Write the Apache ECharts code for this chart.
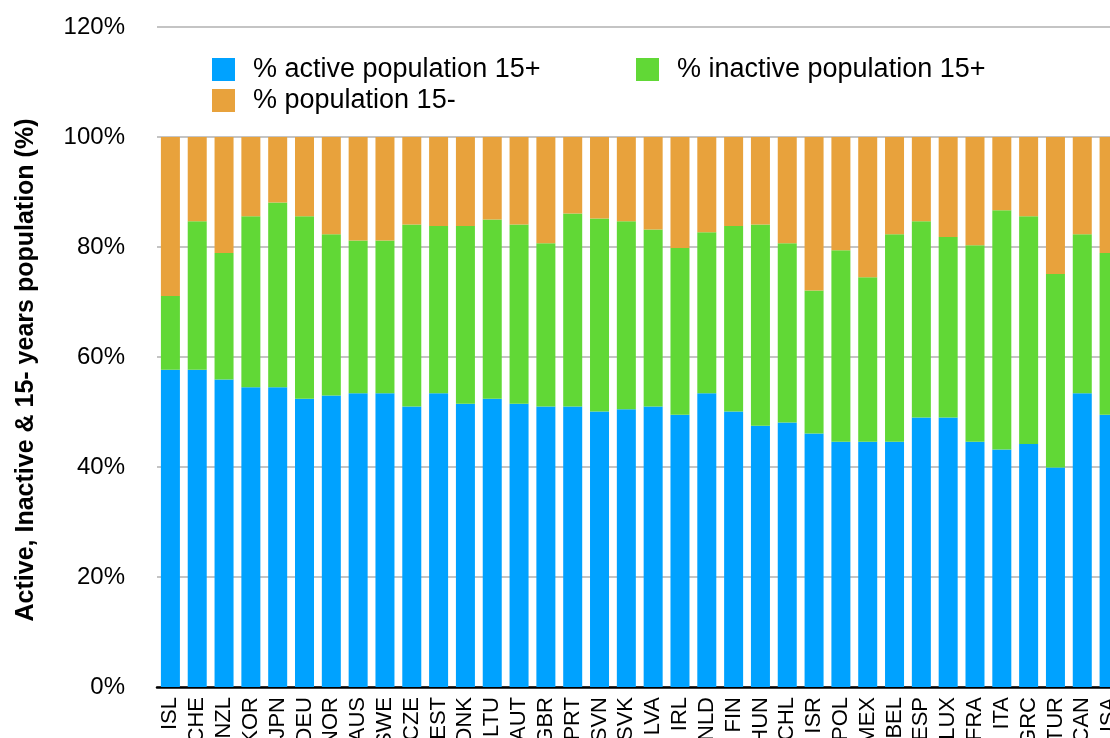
<!DOCTYPE html>
<html>
<head>
<meta charset="utf-8">
<script src="https://cdn.jsdelivr.net/npm/echarts@6/dist/echarts.min.js"></script>
<style>
html,body{margin:0;padding:0;background:#fff;}
#c{width:1110px;height:738px;}
</style>
</head>
<body>
<div id="c"></div>
<script>
const categories = ['ISL','CHE','NZL','KOR','JPN','DEU','NOR','AUS','SWE','CZE','EST','DNK','LTU','AUT','GBR','PRT','SVN','SVK','LVA','IRL','NLD','FIN','HUN','CHL','ISR','POL','MEX','BEL','ESP','LUX','FRA','ITA','GRC','TUR','CAN','USA'];
const activePct = [57.7,57.7,55.9,54.5,54.5,52.4,53.0,53.4,53.4,51.0,53.4,51.5,52.4,51.5,51.0,51.0,50.1,50.5,51.0,49.5,53.4,50.1,47.5,48.1,46.1,44.6,44.6,44.6,49.0,49.0,44.6,43.2,44.2,39.9,53.4,49.5];
const inactivePct = [13.4,27.0,23.0,31.1,33.6,33.2,29.3,27.8,27.8,33.1,30.4,32.3,32.6,32.6,29.7,35.1,35.1,34.2,32.2,30.3,29.3,33.7,36.6,32.6,26.0,34.8,29.9,37.7,35.7,32.8,35.7,43.5,41.4,35.2,28.9,29.4];
const under15Pct = [28.9,15.3,21.1,14.4,11.9,14.4,17.7,18.8,18.8,15.9,16.2,16.2,15.0,15.9,19.3,13.9,14.8,15.3,16.8,20.2,17.3,16.2,15.9,19.3,27.9,20.6,25.5,17.7,15.3,18.2,19.7,13.3,14.4,24.9,17.7,21.1];
const yTicks = {min:0, max:120, interval:20};
const seriesNames = ['% active population 15+','% inactive population 15+','% population 15-'];
const colors = ['#00A2FF','#61D836','#E8A23C'];

const chart = echarts.init(document.getElementById('c'), null, {renderer:'canvas'});
const font = 'Liberation Sans';
function legendItem(name, left, top){
  return {
    data:[name], left:left, top:top, padding:0, itemWidth:23, itemHeight:23, icon:'rect',
    selectedMode:false,
    formatter: function(n){ return '{t|' + n + '}'; },
    textStyle:{ rich:{ t:{ fontFamily:font, fontSize:27, color:'#000', padding:[0,0,0,13] } } }
  };
}
chart.setOption({
  animation:false,
  backgroundColor:'#fff',
  color: colors,
  grid:{left:157, top:27, width:965.5, height:660, containLabel:false, outerBoundsMode:'none'},
  legend:[
    legendItem(seriesNames[0], 212, 56),
    legendItem(seriesNames[1], 636, 56),
    legendItem(seriesNames[2], 212, 87)
  ],
  xAxis:{
    type:'category', data:categories,
    axisTick:{show:false},
    axisLine:{lineStyle:{color:'#000', width:2.5}},
    axisLabel:{rotate:90, interval:0, margin:10, fontFamily:font, fontSize:22, color:'#000'}
  },
  yAxis:{
    type:'value', min:yTicks.min, max:yTicks.max, interval:yTicks.interval,
    axisLine:{show:false}, axisTick:{show:false},
    axisLabel:{formatter:'{value}%', fontFamily:font, fontSize:24, color:'#000', margin:32},
    splitLine:{lineStyle:{color:'#c4c4c4', width:2}}
  },
  graphic:[{
    type:'text', x:26, y:370, rotation:Math.PI/2,
    style:{text:'Active, Inactive & 15- years population (%)', font:'bold 25px Liberation Sans', fill:'#000', textAlign:'center', textVerticalAlign:'middle'}
  }],
  series:[
    {name:seriesNames[0], type:'bar', stack:'a', data:activePct, barWidth:19, itemStyle:{color:colors[0]}},
    {name:seriesNames[1], type:'bar', stack:'a', data:inactivePct, barWidth:19, itemStyle:{color:colors[1]}},
    {name:seriesNames[2], type:'bar', stack:'a', data:under15Pct, barWidth:19, itemStyle:{color:colors[2]}}
  ]
});
</script>
</body>
</html>
